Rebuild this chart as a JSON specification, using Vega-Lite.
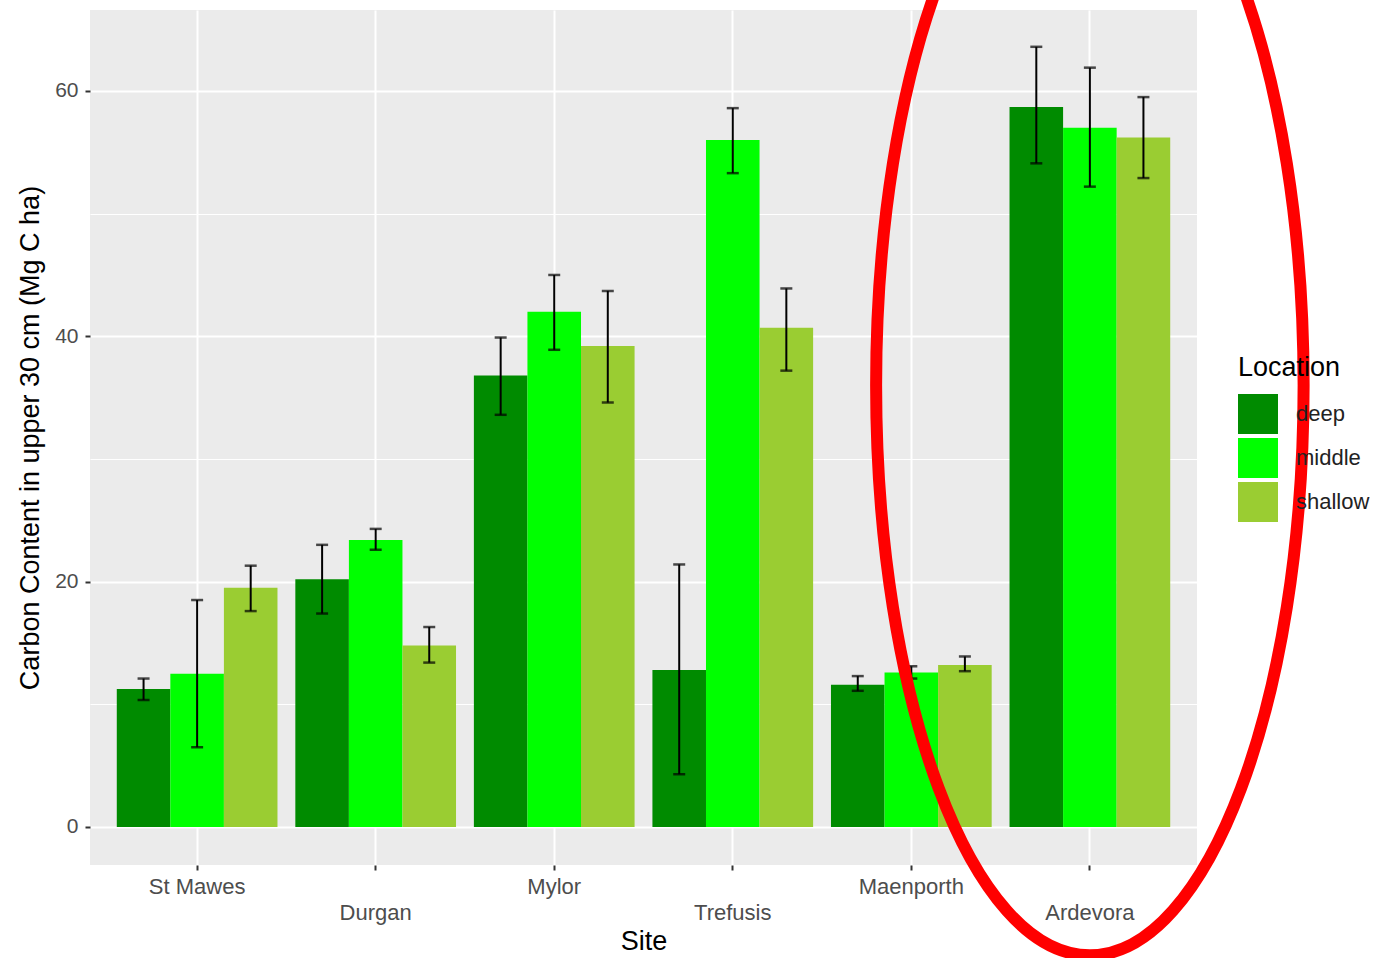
{
  "$schema": "https://vega.github.io/schema/vega-lite/v6.json",
  "width": 1107,
  "height": 855,
  "autosize": {"type": "none"},
  "padding": {"left": 90, "top": 10, "right": 177, "bottom": 93},
  "background": "white",
  "config": {
    "font": "Liberation Sans",
    "view": {"fill": "#EBEBEB", "stroke": null},
    "axis": {"domain": false, "labelColor": "#4D4D4D", "tickColor": "#333333", "titleFontWeight": "normal", "titleColor": "black", "labelFont": "Liberation Sans", "titleFont": "Liberation Sans"}
  },
  "datasets": {
    "bars": [
      {"site": "St Mawes", "location": "deep", "value": 11.25, "lo": 10.35, "hi": 12.1},
      {"site": "St Mawes", "location": "middle", "value": 12.5, "lo": 6.5, "hi": 18.5},
      {"site": "St Mawes", "location": "shallow", "value": 19.5, "lo": 17.6, "hi": 21.3},
      {"site": "Durgan", "location": "deep", "value": 20.2, "lo": 17.4, "hi": 23.0},
      {"site": "Durgan", "location": "middle", "value": 23.4, "lo": 22.6, "hi": 24.3},
      {"site": "Durgan", "location": "shallow", "value": 14.8, "lo": 13.4, "hi": 16.3},
      {"site": "Mylor", "location": "deep", "value": 36.8, "lo": 33.6, "hi": 39.9},
      {"site": "Mylor", "location": "middle", "value": 42.0, "lo": 38.9, "hi": 45.0},
      {"site": "Mylor", "location": "shallow", "value": 39.2, "lo": 34.6, "hi": 43.7},
      {"site": "Trefusis", "location": "deep", "value": 12.8, "lo": 4.3, "hi": 21.4},
      {"site": "Trefusis", "location": "middle", "value": 56.0, "lo": 53.3, "hi": 58.6},
      {"site": "Trefusis", "location": "shallow", "value": 40.7, "lo": 37.2, "hi": 43.9},
      {"site": "Maenporth", "location": "deep", "value": 11.6, "lo": 11.1, "hi": 12.3},
      {"site": "Maenporth", "location": "middle", "value": 12.6, "lo": 12.1, "hi": 13.1},
      {"site": "Maenporth", "location": "shallow", "value": 13.2, "lo": 12.7, "hi": 13.9},
      {"site": "Ardevora", "location": "deep", "value": 58.7, "lo": 54.1, "hi": 63.6},
      {"site": "Ardevora", "location": "middle", "value": 57.0, "lo": 52.2, "hi": 61.9},
      {"site": "Ardevora", "location": "shallow", "value": 56.2, "lo": 52.9, "hi": 59.5}
    ],
    "highlight": [
      {"site": "Ardevora", "value": 36.0}
    ]
  },
  "encoding": {
    "x": {
      "field": "site",
      "type": "nominal",
      "sort": ["St Mawes", "Durgan", "Mylor", "Trefusis", "Maenporth", "Ardevora"],
      "scale": {"paddingInner": 0.1, "paddingOuter": 0.15},
      "axis": {
        "title": "Site",
        "titleFontSize": 27,
        "titlePadding": 5,
        "labelFontSize": 22,
        "labelAngle": 0,
        "labelLineHeight": 26,
        "labelPadding": 6,
        "labelExpr": "indexof(['Durgan','Trefusis','Ardevora'], datum.value) >= 0 ? ['', datum.value] : datum.value",
        "tickSize": 5,
        "tickWidth": 2,
        "grid": true,
        "gridColor": "white",
        "gridWidth": 2,
        "bandPosition": 0.5
      }
    }
  },
  "layer": [
    {
      "data": {"name": "bars"},
      "mark": {"type": "bar"},
      "encoding": {
        "xOffset": {"field": "location", "type": "nominal", "scale": {"paddingInner": 0, "paddingOuter": 0}},
        "y": {
          "field": "value",
          "type": "quantitative",
          "scale": {"domain": [-3.1, 66.6], "nice": false, "zero": false},
          "axis": {
            "title": "Carbon Content in upper 30 cm (Mg C ha)",
            "titleFontSize": 27,
            "titlePadding": 10,
            "labelFontSize": 21,
            "labelPadding": 7,
            "values": [0, 10, 20, 30, 40, 50, 60],
            "labelExpr": "datum.value % 20 === 0 ? datum.label : ''",
            "grid": true,
            "gridColor": "white",
            "gridWidth": {"condition": {"test": "datum.value % 20 === 0", "value": 2}, "value": 1},
            "tickSize": {"condition": {"test": "datum.value % 20 === 0", "value": 5}, "value": 0},
            "tickWidth": 2
          }
        },
        "y2": {"datum": 0},
        "color": {
          "field": "location",
          "type": "nominal",
          "scale": {"domain": ["deep", "middle", "shallow"], "range": ["#008B00", "#00FF00", "#9ACD32"]},
          "legend": {
            "title": "Location",
            "orient": "none",
            "legendX": 1148,
            "legendY": 345,
            "titleFontSize": 27,
            "titleFontWeight": "normal",
            "titleColor": "black",
            "titlePadding": 12,
            "labelFontSize": 22,
            "labelColor": "#222222",
            "symbolType": "square",
            "symbolSize": 1600,
            "symbolStrokeWidth": 0,
            "symbolOpacity": 1,
            "rowPadding": 4,
            "labelOffset": 18
          }
        }
      }
    },
    {
      "data": {"name": "bars"},
      "mark": {"type": "rule", "color": "black", "strokeWidth": 2},
      "encoding": {
        "xOffset": {"field": "location", "type": "nominal"},
        "y": {"field": "lo", "type": "quantitative"},
        "y2": {"field": "hi"}
      }
    },
    {
      "data": {"name": "bars"},
      "mark": {"type": "tick", "color": "black", "thickness": 2.5, "size": 12, "orient": "horizontal"},
      "encoding": {
        "xOffset": {"field": "location", "type": "nominal"},
        "y": {"field": "lo", "type": "quantitative"}
      }
    },
    {
      "data": {"name": "bars"},
      "mark": {"type": "tick", "color": "black", "thickness": 2.5, "size": 12, "orient": "horizontal"},
      "encoding": {
        "xOffset": {"field": "location", "type": "nominal"},
        "y": {"field": "hi", "type": "quantitative"}
      }
    },
    {
      "data": {"name": "highlight"},
      "mark": {
        "type": "point",
        "shape": "M -0.375 0 A 0.375 1 0 1 0 0.375 0 A 0.375 1 0 1 0 -0.375 0 Z",
        "filled": false,
        "stroke": "#FF0000",
        "strokeWidth": 12,
        "opacity": 1,
        "size": 1299600,
        "clip": false
      },
      "encoding": {
        "y": {"field": "value", "type": "quantitative"}
      }
    }
  ]
}
